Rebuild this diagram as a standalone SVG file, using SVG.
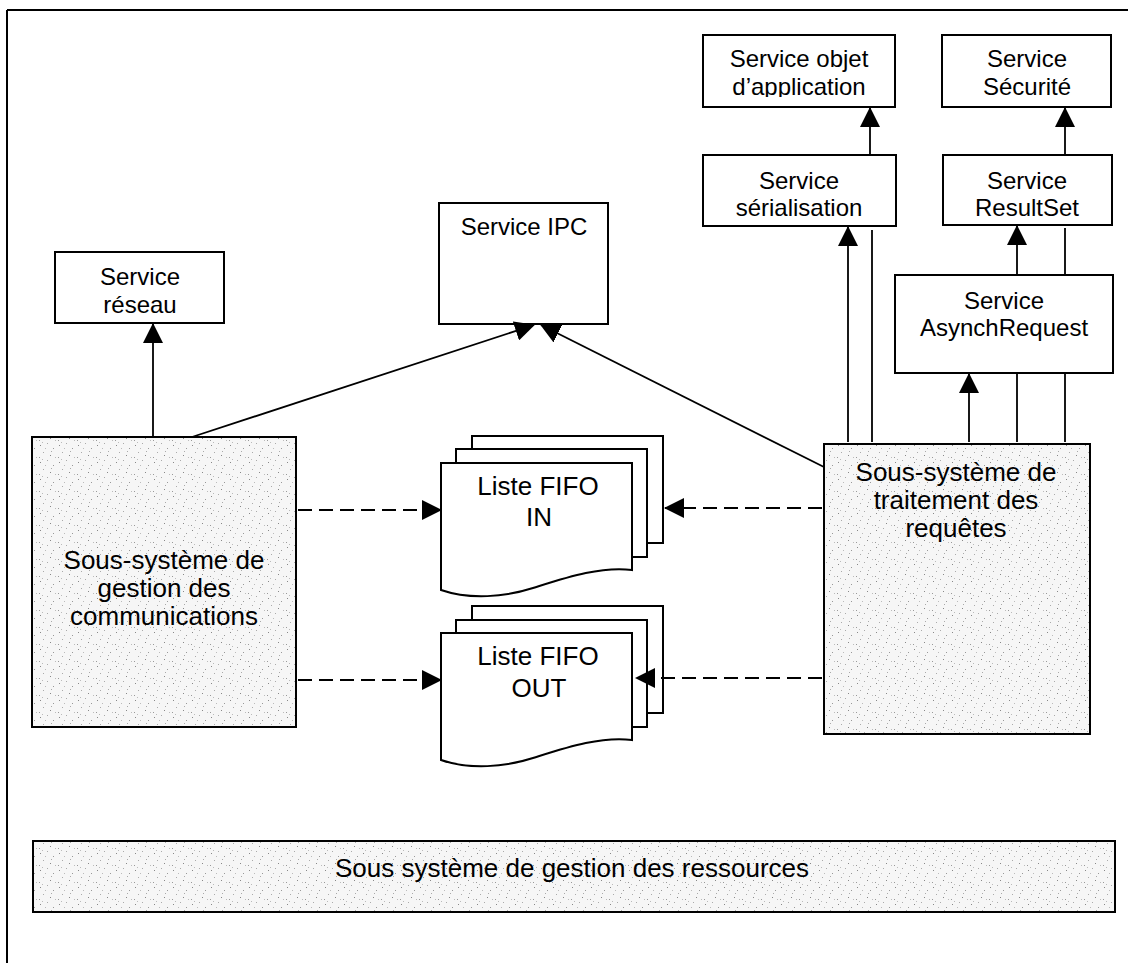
<svg xmlns="http://www.w3.org/2000/svg" width="1128" height="963" viewBox="0 0 1128 963">
<style>
.box{fill:#fff;stroke:#000;stroke-width:2}
.sub{fill:url(#stip);stroke:#000;stroke-width:2}
.page{fill:#fff;stroke:#000;stroke-width:2}
.t{font-family:"Liberation Sans",Arial,sans-serif;fill:#000;text-anchor:middle}
.s24{font-size:24px}
.s26{font-size:26px}
.ln{stroke:#000;stroke-width:1.8;fill:none}
.dash{stroke:#000;stroke-width:1.8;fill:none;stroke-dasharray:14 7}
.frame{stroke:#000;stroke-width:2;fill:none}
</style>
<defs>
<pattern id="stip" width="19" height="17" patternUnits="userSpaceOnUse">
<rect width="19" height="17" fill="#f6f6f6"/>
<rect x="2" y="3" width="1" height="1" fill="#888"/>
<rect x="9" y="1" width="1" height="1" fill="#aaa"/>
<rect x="15" y="6" width="1" height="1" fill="#999"/>
<rect x="5" y="10" width="1" height="1" fill="#aaa"/>
<rect x="12" y="13" width="1" height="1" fill="#888"/>
<rect x="17" y="15" width="1" height="1" fill="#bbb"/>
<rect x="7" y="6" width="1" height="1" fill="#bbb"/>
<rect x="1" y="15" width="1" height="1" fill="#999"/>
<rect x="13" y="9" width="1" height="1" fill="#aaa"/>
<rect x="4" y="0" width="1" height="1" fill="#bbb"/>
</pattern>
<marker id="ah" markerWidth="20" markerHeight="20" refX="19" refY="10" orient="auto" markerUnits="userSpaceOnUse">
<path d="M0,0 L20,10 L0,20 Z" fill="#000"/>
</marker>
<clipPath id="clipObj"><rect x="703" y="35" width="192" height="62"/></clipPath>
</defs>

<g id="frame">
<line class="frame" x1="7" y1="10" x2="1128" y2="10"/>
<line class="frame" x1="7" y1="10" x2="7" y2="963"/>
</g>

<g id="service-objet">
<rect class="box" x="703" y="35" width="192" height="72"/>
<g clip-path="url(#clipObj)">
<text class="t s24" x="799" y="67">Service objet</text>
<text class="t s24" x="799" y="95">d’application</text>
</g>
</g>

<g id="service-securite">
<rect class="box" x="942" y="35" width="169" height="72"/>
<text class="t s24" x="1027" y="67">Service</text>
<text class="t s24" x="1027" y="95">Sécurité</text>
</g>

<g id="service-serialisation">
<rect class="box" x="703" y="155" width="193" height="71"/>
<text class="t s24" x="799" y="189">Service</text>
<text class="t s24" x="799" y="216">sérialisation</text>
</g>

<g id="service-resultset">
<rect class="box" x="943" y="155" width="169" height="70"/>
<text class="t s24" x="1027" y="189">Service</text>
<text class="t s24" x="1027" y="216">ResultSet</text>
</g>

<g id="service-asynchrequest">
<rect class="box" x="895" y="275" width="218" height="98"/>
<text class="t s24" x="1004" y="309">Service</text>
<text class="t s24" x="1004" y="336">AsynchRequest</text>
</g>

<g id="service-ipc">
<rect class="box" x="439" y="203" width="169" height="121"/>
<text class="t s24" x="524" y="235">Service IPC</text>
</g>

<g id="service-reseau">
<rect class="box" x="55" y="252" width="169" height="71"/>
<text class="t s24" x="140" y="285">Service</text>
<text class="t s24" x="140" y="313">réseau</text>
</g>

<g id="sous-systeme-communications">
<rect class="sub" x="32" y="437" width="264" height="290"/>
<text class="t s26" x="164" y="569">Sous-système de</text>
<text class="t s26" x="164" y="597">gestion des</text>
<text class="t s26" x="164" y="625">communications</text>
</g>

<g id="sous-systeme-traitement">
<rect class="sub" x="824" y="444" width="266" height="290"/>
<text class="t s26" x="956" y="481">Sous-système de</text>
<text class="t s26" x="956" y="509">traitement des</text>
<text class="t s26" x="956" y="537">requêtes</text>
</g>

<g id="fifo-in">
<rect class="page" x="472" y="436" width="191" height="107"/>
<rect class="page" x="456" y="449" width="191" height="108"/>
<path class="page" d="M441,463 H632 V570 C600,566 565,578 533,588 C505,597 470,600 441,590 Z"/>
<text class="t s26" x="538" y="495">Liste FIFO</text>
<text class="t s26" x="539" y="526">IN</text>
</g>

<g id="fifo-out">
<rect class="page" x="472" y="606" width="191" height="107"/>
<rect class="page" x="456" y="620" width="191" height="107"/>
<path class="page" d="M441,633 H632 V740 C600,736 565,748 533,758 C505,767 470,770 441,760 Z"/>
<text class="t s26" x="538" y="665">Liste FIFO</text>
<text class="t s26" x="539" y="697">OUT</text>
</g>

<g id="sous-systeme-ressources">
<rect class="sub" x="33" y="841" width="1082" height="71"/>
<text class="t s26" x="572" y="877">Sous système de gestion des ressources</text>
</g>

<g id="connectors">
<line class="ln" x1="153" y1="437" x2="153" y2="324" marker-end="url(#ah)"/>
<line class="ln" x1="192" y1="437" x2="534" y2="325" marker-end="url(#ah)"/>
<line class="ln" x1="824" y1="467" x2="541" y2="325" marker-end="url(#ah)"/>
<line class="ln" x1="848" y1="442" x2="848" y2="227" marker-end="url(#ah)"/>
<line class="ln" x1="872" y1="230" x2="872" y2="442"/>
<line class="ln" x1="969" y1="442" x2="969" y2="374" marker-end="url(#ah)"/>
<line class="ln" x1="1017" y1="374" x2="1017" y2="442"/>
<line class="ln" x1="1065" y1="374" x2="1065" y2="442"/>
<line class="ln" x1="1017" y1="275" x2="1017" y2="226" marker-end="url(#ah)"/>
<line class="ln" x1="1065" y1="228" x2="1065" y2="275"/>
<line class="ln" x1="870" y1="155" x2="870" y2="108" marker-end="url(#ah)"/>
<line class="ln" x1="1065" y1="155" x2="1065" y2="108" marker-end="url(#ah)"/>
<line class="dash" x1="298" y1="510" x2="441" y2="510" marker-end="url(#ah)"/>
<line class="dash" x1="298" y1="680" x2="441" y2="680" marker-end="url(#ah)"/>
<line class="dash" x1="822" y1="508" x2="665" y2="508" marker-end="url(#ah)"/>
<line class="dash" x1="822" y1="678" x2="636" y2="678" marker-end="url(#ah)"/>
</g>
</svg>
